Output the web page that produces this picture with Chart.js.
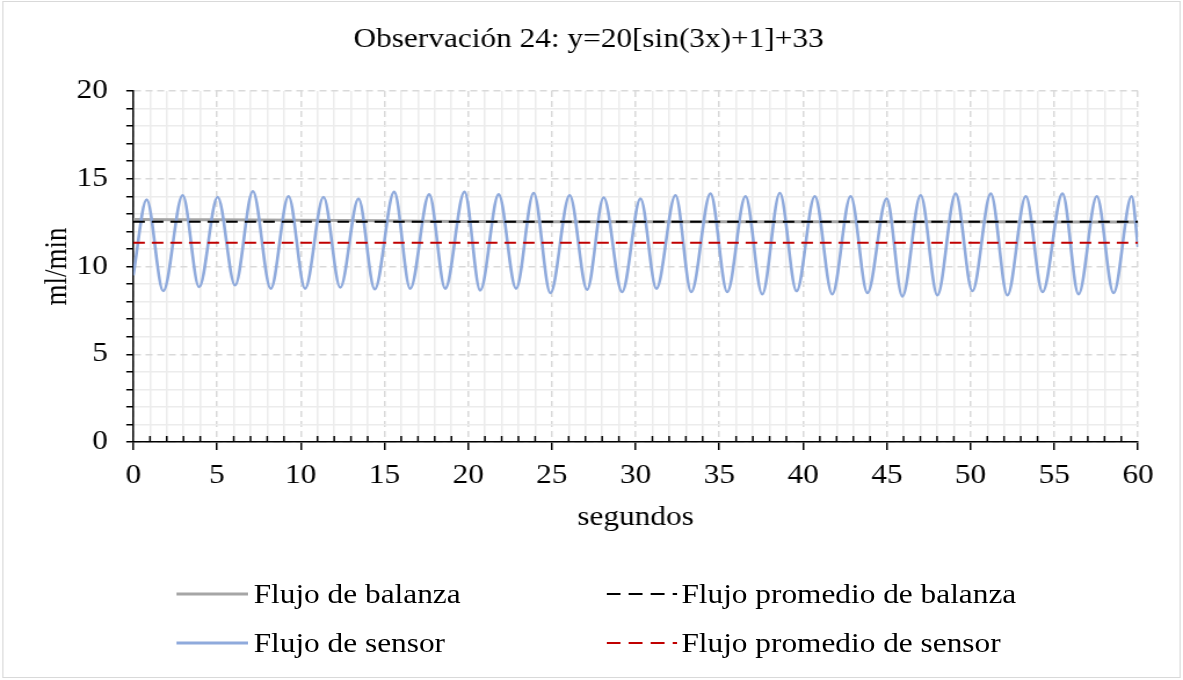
<!DOCTYPE html>
<html lang="es">
<head>
<meta charset="utf-8">
<title>Observación 24</title>
<script src="https://cdn.jsdelivr.net/npm/chart.js@4"></script>
<style>
  html, body { margin: 0; padding: 0; background: #fff; overflow: hidden; }
  /* todo el gráfico se ensancha un poco en horizontal */
  #lienzo { position: absolute; left: 0; top: 0; width: 1020px; height: 680px; transform: scaleX(1.1598); transform-origin: 0 0; }
  #marco { position: absolute; left: 2px; top: 1px; width: 1016px; height: 677px; border: 1.5px solid #d9d9d9; box-sizing: border-box; }
  #grafico { position: absolute; left: 0; top: 0; }
  .item { position: absolute; height: 32px; display: flex; align-items: center; font: 27px "Liberation Serif", "Times New Roman", serif; color: #000; white-space: nowrap; }
  .item svg { display: block; }
</style>
</head>
<body>
<div id="lienzo">
  <div id="marco"></div>
  <canvas id="grafico" width="1020" height="680"></canvas>

  <div class="item" style="left:151.7px; top:578px;">
    <svg width="62" height="32"><line x1="0" y1="16" x2="62" y2="16" stroke="#a6a6a6" stroke-width="3"/></svg>
    <span style="margin-left:5px">Flujo de balanza</span>
  </div>
  <div class="item" style="left:522.5px; top:578px;">
    <svg width="61" height="32"><line x1="0" y1="16" x2="61" y2="16" stroke="#000" stroke-width="2" stroke-dasharray="12 7"/></svg>
    <span style="margin-left:4px">Flujo promedio de balanza</span>
  </div>
  <div class="item" style="left:151.7px; top:627px;">
    <svg width="62" height="32"><line x1="0" y1="16" x2="62" y2="16" stroke="#8faadc" stroke-width="3"/></svg>
    <span style="margin-left:5px">Flujo de sensor</span>
  </div>
  <div class="item" style="left:522.5px; top:627px;">
    <svg width="61" height="32"><line x1="0" y1="16" x2="61" y2="16" stroke="#c00000" stroke-width="2" stroke-dasharray="12 7"/></svg>
    <span style="margin-left:4px">Flujo promedio de sensor</span>
  </div>
</div>

<script>
// Flujo de balanza (ml/min) en el tiempo (s)
const tiempoBalanza = [0, 5, 10, 15, 20, 30, 40, 50, 60];
const flujoBalanza = [12.68, 12.66, 12.63, 12.6, 12.56, 12.55, 12.55, 12.55, 12.53];

// Flujo de sensor: máximos y mínimos de la oscilación
const tiempoSensor = [0, 0.80, 1.79, 2.95, 3.93, 5.04, 6.08, 7.14, 8.21, 9.27, 10.26, 11.36, 12.36,
  13.45, 14.42, 15.58, 16.54, 17.67, 18.63, 19.78, 20.72, 21.82, 22.86, 23.91, 24.91, 26.06, 27.10,
  28.09, 29.19, 30.29, 31.24, 32.38, 33.32, 34.47, 35.47, 36.56, 37.56, 38.61, 39.61, 40.70, 41.74,
  42.84, 43.84, 44.99, 45.93, 47.02, 48.02, 49.11, 50.11, 51.21, 52.20, 53.30, 54.30, 55.49, 56.45,
  57.54, 58.54, 59.62, 60];
const flujoSensor = [9.5, 13.81, 8.60, 14.06, 8.83, 13.96, 8.93, 14.29, 8.74, 14.0, 8.74, 13.96, 8.8,
  13.87, 8.7, 14.25, 8.74, 14.11, 8.74, 14.25, 8.64, 14.11, 8.74, 14.19, 8.49, 14.06, 8.68,
  13.93, 8.55, 13.87, 8.74, 14.06, 8.55, 14.15, 8.55, 14.0, 8.42, 14.19, 8.60, 14.0, 8.42,
  14.0, 8.49, 13.87, 8.30, 14.06, 8.36, 14.15, 8.60, 14.15, 8.36, 14.0, 8.55, 14.15, 8.42,
  14.0, 8.49, 14.0, 11.1];

// Promedios
const tiempoPromedio = [0, 60];
const promedioBalanza = [12.55, 12.55];
const promedioSensor = [11.35, 11.35];

// Etiquetas de los ejes
const marcasX = [0, 5, 10, 15, 20, 25, 30, 35, 40, 45, 50, 55, 60];
const marcasY = [0, 5, 10, 15, 20];

const fuente = '"Liberation Serif", "Times New Roman", serif';
Chart.defaults.font.family = fuente;
Chart.defaults.font.size = 27;
Chart.defaults.color = '#000';

const puntos = (xs, ys) => xs.map((x, i) => ({ x: x, y: ys[i] }));

// lineas de cuadricula: principales discontinuas, secundarias continuas
const esPrincipal = (ctx, marcas) => ctx.tick && marcas.includes(ctx.tick.value);

// marcas menores del eje x hacia dentro del area
const marcasMenores = {
  id: 'marcasMenores',
  afterDraw(chart) {
    const { ctx, chartArea } = chart;
    const x = chart.scales.x;
    ctx.save();
    ctx.strokeStyle = '#000';
    ctx.lineWidth = 1.5;
    ctx.beginPath();
    x.ticks.forEach(t => {
      if (marcasX.includes(t.value)) return;
      const px = x.getPixelForValue(t.value);
      ctx.moveTo(px, chartArea.bottom);
      ctx.lineTo(px, chartArea.bottom - 6);
    });
    ctx.stroke();
    ctx.restore();
  }
};

new Chart(document.getElementById('grafico'), {
  type: 'line',
  data: {
    datasets: [
      {
        label: 'Flujo promedio de balanza',
        data: puntos(tiempoPromedio, promedioBalanza),
        borderColor: '#000',
        borderWidth: 2,
        borderDash: [10, 6],
        pointRadius: 0,
        order: 0
      },
      {
        label: 'Flujo promedio de sensor',
        data: puntos(tiempoPromedio, promedioSensor),
        borderColor: '#c00000',
        borderWidth: 2,
        borderDash: [10, 6],
        pointRadius: 0,
        order: 0
      },
      {
        label: 'Flujo de sensor',
        data: puntos(tiempoSensor, flujoSensor),
        borderColor: '#8faadc',
        borderWidth: 2.6,
        cubicInterpolationMode: 'monotone',
        pointRadius: 0,
        order: 1
      },
      {
        label: 'Flujo de balanza',
        data: puntos(tiempoBalanza, flujoBalanza),
        borderColor: '#a6a6a6',
        borderWidth: 3,
        tension: 0.3,
        pointRadius: 0,
        order: 2
      }
    ]
  },
  options: {
    responsive: false,
    animation: false,
    layout: {
      padding: { left: 33.8, right: 38.8, top: 0, bottom: 146 }
    },
    plugins: {
      legend: { display: false },
      tooltip: { enabled: false },
      title: {
        display: true,
        text: 'Observación 24: y=20[sin(3x)+1]+33',
        font: { size: 27, weight: 'normal' },
        color: '#000',
        padding: { top: 23.8, bottom: 34.8 }
      }
    },
    scales: {
      x: {
        type: 'linear',
        min: 0,
        max: 60,
        afterFit: s => { s.height = 92; },
        ticks: {
          stepSize: 1,
          autoSkip: false,
          maxRotation: 0,
          padding: 10,
          callback: v => marcasX.includes(v) ? v : ''
        },
        grid: {
          color: ctx => esPrincipal(ctx, marcasX) ? '#d9d9d9' : '#ececec',
          lineWidth: 1.5,
          tickColor: ctx => esPrincipal(ctx, marcasX) ? '#000' : 'rgba(0,0,0,0)',
          tickLength: 8,
          tickWidth: 1.5
        },
        border: {
          color: '#000',
          width: 1.5,
          dash: ctx => esPrincipal(ctx, marcasX) ? [6, 4] : []
        },
        title: {
          display: true,
          text: 'segundos',
          font: { size: 27 },
          padding: 0
        }
      },
      y: {
        min: 0,
        max: 20,
        afterFit: s => { s.width = 81.1; },
        ticks: {
          stepSize: 1,
          autoSkip: false,
          padding: 15.8,
          callback: v => marcasY.includes(v) ? v : ''
        },
        grid: {
          color: ctx => esPrincipal(ctx, marcasY) ? '#d9d9d9' : '#ececec',
          lineWidth: 1.5,
          tickColor: '#000',
          tickLength: 6,
          tickWidth: 1.5
        },
        border: {
          color: '#000',
          width: 1.5,
          dash: ctx => esPrincipal(ctx, marcasY) ? [6, 4] : []
        },
        title: {
          display: true,
          text: 'ml/min',
          font: { size: 27 },
          padding: 0
        }
      }
    }
  },
  plugins: [marcasMenores]
});
</script>
</body>
</html>
